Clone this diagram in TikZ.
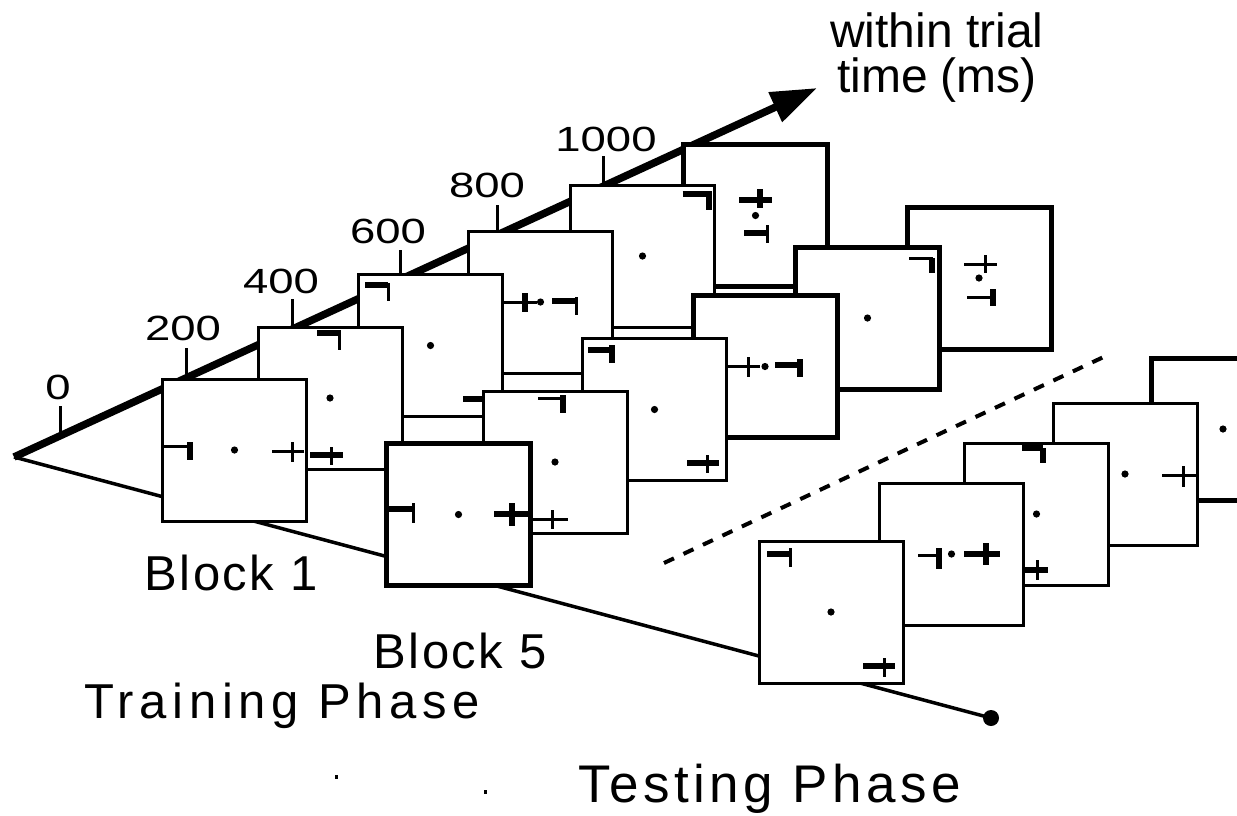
\documentclass[tikz,border=0pt]{standalone}
\usepackage{fontspec}
\setmainfont{Liberation Sans}
\newfontfamily\tickfont[FakeStretch=1.3]{Liberation Sans}
\usetikzlibrary{arrows.meta,calc}

\tikzstyle{card}=[draw, fill=white, line width=3pt, minimum width=144pt,
  minimum height=142pt, inner sep=0pt]
\tikzstyle{boldcard}=[card, line width=5pt]
\tikzstyle{slim}=[line width=3pt]
\tikzstyle{heavy}=[line width=6pt]
\tikzstyle{timeline}=[draw, line width=7.5pt, -{Triangle[length=46pt,width=31pt]}]
\tikzstyle{blockline}=[draw, line width=3.5pt]
\tikzstyle{divider}=[draw, line width=4pt, dash pattern=on 11pt off 10.5pt]
\tikzstyle{tickmark}=[draw, line width=3pt]
\tikzstyle{ticklabel}=[inner sep=0pt, font=\tickfont\fontsize{35}{35}\selectfont]
\tikzstyle{blocktext}=[inner sep=0pt, anchor=base west,
  font=\fontsize{49}{49}\selectfont\addfontfeature{LetterSpace=5}]
\tikzstyle{phasetext}=[inner sep=0pt, anchor=base west,
  font=\fontsize{49}{49}\selectfont\addfontfeature{LetterSpace=11.5}]
\tikzstyle{testtext}=[phasetext,
  font=\fontsize{53}{53}\selectfont\addfontfeature{LetterSpace=8.5}]
\tikzstyle{axistext}=[inner sep=0pt, align=center, font=\fontsize{48}{45}\selectfont]
% one stimulus screen: name, style, centre, stimuli (relative to centre)
\newcommand{\trialcard}[4]{%
  \path (#3) node (#1) [#2] {};
  \begin{scope}[shift={(#1.center)}]
    \fill (0,0) circle (3.6);
    #4
  \end{scope}}
\newcommand{\hseg}[4]{\draw[#4] (#1,#3) -- (#2,#3);}
\newcommand{\vseg}[4]{\draw[#4] (#1,#2) -- (#1,#3);}

\begin{document}
\begin{tikzpicture}[x=1pt,y=-1pt]
  \useasboundingbox (0,0) rectangle (1237,815);
  \clip (0,0) rectangle (1237,815);

  % time axis, ticks and block line
  \coordinate (O) at (14,457);
  \coordinate (T) at (817,88);
  \coordinate (E) at (991,718);
  \path [timeline] (O) -- (T);
  \foreach \t/\p/\lx/\ly in {0/0.0573/58/387, 200/0.2142/183/328,
      400/0.3474/281/281, 600/0.4807/388/231, 800/0.6027/487/185,
      1000/0.7347/606/139}{
    \path [tickmark] ($(O)!\p!(T)$) -- ++(0,-30);
    \node [ticklabel] (t\t) at (\lx,\ly) {\t};
  }
  \path [blockline] (O) -- (E);
  \fill (E) circle (8);

  % divider between training and testing
  \coordinate (d1) at (664,563);
  \coordinate (d2) at (1110,354);
  \path [divider] (d1) -- (d2);

  % Block 1 (back to front)
  \trialcard{bF}{boldcard}{755.5,215.5}{
    \hseg{-16.5}{16.5}{-15.5}{heavy} \vseg{4.5}{-26.5}{-7.5}{heavy}
    \hseg{-11.5}{11.5}{17.5}{heavy} \vseg{11.5}{9.5}{27.5}{slim}}
  \trialcard{bE}{card}{642.5,256}{
    \hseg{40}{68}{-62}{heavy} \vseg{66}{-65}{-46}{heavy}}
  \trialcard{bD}{card}{540.5,302}{
    \hseg{-45}{-4}{0}{slim} \vseg{-15.5}{-9}{10}{heavy}
    \hseg{11.5}{35.5}{-1}{heavy} \vseg{35.5}{-5}{13}{slim}}
  \trialcard{bC}{card}{430.5,345.5}{
    \hseg{-65.5}{-42.5}{-60.5}{heavy} \vseg{-42.5}{-62.5}{-44.5}{slim}
    \hseg{32.5}{60}{53.5}{heavy}}
  \trialcard{bB}{card}{330,398}{
    \hseg{-13}{9}{-65}{heavy} \vseg{9}{-68}{-48}{slim}
    \hseg{-20}{13}{57}{heavy} \vseg{1}{49}{67}{slim}}
  \trialcard{bA}{card}{234.5,450}{
    \hseg{-71.5}{-44.5}{-4}{slim} \vseg{-44.5}{-8}{10}{heavy}
    \hseg{37.5}{69.5}{1}{slim} \vseg{57.5}{-8}{12}{slim}}

  % Block 5 (back to front)
  \trialcard{fF}{boldcard}{979,278}{
    \hseg{-15}{18}{-14}{slim} \vseg{6}{-23}{-5}{slim}
    \hseg{-12}{14}{19}{slim} \vseg{14}{11}{28}{heavy}}
  \trialcard{fE}{boldcard}{867.5,318}{
    \hseg{41.5}{65.5}{-60}{slim} \vseg{64.5}{-60}{-45}{heavy}}
  \trialcard{fD}{boldcard}{765,366.5}{
    \hseg{-45}{-5}{-0.5}{slim} \vseg{-17}{-9.5}{10.5}{slim}
    \hseg{10}{35}{-1.5}{heavy} \vseg{35}{-7.5}{10.5}{heavy}}
  \trialcard{fC}{card}{654.5,409.5}{
    \hseg{-66.5}{-40.5}{-59.5}{heavy} \vseg{-42.5}{-64.5}{-46.5}{heavy}
    \hseg{32.5}{64.5}{53.5}{heavy} \vseg{52.5}{45.5}{63.5}{slim}}
  \trialcard{fB}{card}{555,462}{
    \hseg{-17}{8}{-64}{slim} \vseg{8}{-67}{-49}{heavy}
    \hseg{-25}{13}{57}{slim} \vseg{-3}{48}{67}{slim}}
  \trialcard{fA}{boldcard}{458.5,514.5}{
    \hseg{-72}{-45.5}{-6}{heavy} \vseg{-45.5}{-11.5}{8.5}{slim}
    \hseg{35.5}{70.5}{-0.5}{heavy} \vseg{53.5}{-11.5}{11.5}{heavy}}

  % testing phase (back to front)
  \trialcard{tE}{boldcard}{1223,429}{}
  \trialcard{tD}{card}{1125,474}{
    \hseg{37}{72}{1}{slim} \vseg{58}{-8}{13}{slim}}
  \trialcard{tC}{card}{1036.5,514}{
    \hseg{-14.5}{6.5}{-66}{heavy} \vseg{6.5}{-66}{-51}{heavy}
    \hseg{-25}{11.5}{56}{heavy} \vseg{0.5}{46}{66}{slim}}
  \trialcard{tB}{card}{951.5,554}{
    \hseg{-33.5}{-12.5}{1}{slim} \vseg{-12.5}{-6}{15}{heavy}
    \hseg{12.5}{48.5}{0}{heavy} \vseg{34.5}{-11}{11}{heavy}}
  \trialcard{tA}{card}{831,612}{
    \hseg{-64}{-41}{-58}{heavy} \vseg{-41}{-64}{-45}{slim}
    \hseg{32}{64}{54}{heavy} \vseg{53}{46}{65}{slim}}

  % labels
  \node [axistext] (unit) at (937,58) {within trial\\time (ms)};
  \node [blocktext] (blk1) at (144.5,590) {Block 1};
  \node [blocktext] (blk5) at (373.5,668) {Block 5};
  \node [phasetext] (train) at (84,718) {Training Phase};
  \node [testtext] (test) at (578,802) {Testing Phase};
  \fill (334.5,775) rectangle (337.5,779);
  \fill (483.5,790) rectangle (486.5,794);
\end{tikzpicture}
\end{document}
